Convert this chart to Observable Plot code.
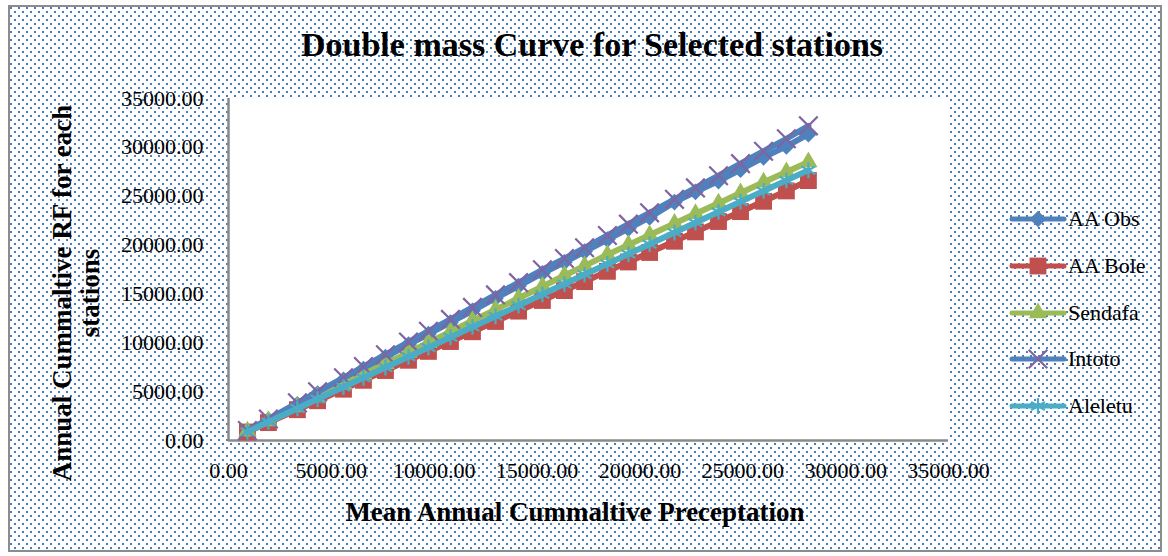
<!DOCTYPE html>
<html>
<head>
<meta charset="utf-8">
<script src="https://cdn.jsdelivr.net/npm/d3@7"></script>
<script src="https://cdn.jsdelivr.net/npm/@observablehq/plot@0.6"></script>
<style>
  html, body { margin: 0; padding: 0; background: #fff; }
  #chart {
    position: absolute; left: 8px; top: 5px; width: 1150px; height: 543px;
    border: 2px solid #8c8c8c; background-color: #fff;
    background-image: url("data:image/svg+xml,%3Csvg xmlns='http://www.w3.org/2000/svg' width='8' height='8'%3E%3Crect width='2' height='2' fill='%234a7ebb'/%3E%3Crect x='4' y='4' width='2' height='2' fill='%234a7ebb'/%3E%3C/svg%3E");
  }
  #plot { position: absolute; left: 0; top: 0; }
  .t { position: absolute; font-family: "Liberation Serif", serif; font-weight: bold; color: #000; white-space: nowrap; }
  #legend .item { position: absolute; display: flex; align-items: center; font-family: "Liberation Serif", serif; font-size: 22px; color: #000; }
</style>
</head>
<body>
<div id="chart"></div>
<div id="plot"></div>
<div class="t" style="left:592px;top:45px;transform:translate(-50%,-50%);font-size:34px;">Double mass Curve for Selected stations</div>
<div class="t" style="left:76px;top:293px;transform:translate(-50%,-50%) rotate(-90deg);text-align:center;font-size:27px;line-height:28px;">Annual Cummaltive RF for each<br>stations</div>
<div class="t" style="left:575px;top:512px;transform:translate(-50%,-50%);font-size:27px;">Mean Annual Cummaltive Preceptation</div>
<div id="legend"></div>
<script>
// Cumulative mean annual rainfall (x) and cumulative rainfall per station (y)
const meanCum = [920, 1940, 3350, 4330, 5590, 6560, 7630, 8750, 9720, 10790, 11860, 12980, 14100,
  15260, 16330, 17310, 18420, 19440, 20470, 21680, 22700, 23820, 24890, 26010, 27120, 28190];
const aaObs = [980, 2120, 3690, 4800, 6200, 7320, 8540, 9820, 10900, 12080, 13280, 14560, 15800,
  17120, 18240, 19330, 20560, 21690, 22840, 24400, 25450, 26550, 27720, 28980, 30100, 31350];
const aaBole = [870, 1830, 3150, 4070, 5250, 6160, 7160, 8210, 9120, 10130, 11130, 12180, 13240,
  14330, 15340, 16260, 17310, 18270, 19240, 20390, 21350, 22410, 23420, 24480, 25540, 26600];
const sendafa = [950, 2010, 3430, 4450, 5760, 6780, 7860, 9010, 10010, 11130, 12250, 13390, 14560,
  15760, 16890, 17870, 19010, 20020, 21030, 22210, 23200, 24280, 25330, 26430, 27480, 28500];
const intoto = [1010, 2200, 3850, 4980, 6420, 7560, 8780, 10080, 11180, 12390, 13620, 14900, 16150,
  17470, 18620, 19720, 20980, 22140, 23300, 24680, 25850, 27100, 28330, 29600, 30880, 32200];
const aleletu = [900, 1900, 3280, 4240, 5470, 6420, 7470, 8570, 9520, 10570, 11620, 12720, 13810,
  14960, 16010, 16980, 18070, 19080, 20090, 21280, 22290, 23390, 24440, 25540, 26620, 27650];

const stationNames = ["AA Obs", "AA Bole", "Sendafa", "Intoto", "Aleletu"];
const stationValues = [aaObs, aaBole, sendafa, intoto, aleletu];
const xTicks = [0, 5000, 10000, 15000, 20000, 25000, 30000, 35000];
const yTicks = [0, 5000, 10000, 15000, 20000, 25000, 30000, 35000];

// Drawing style per station (line colour, marker symbol and colour)
const styles = {
  "AA Obs":  {line: "#4f81bd", color: "#4f81bd", symbol: "diamond2", r: 7.5, filled: true},
  "AA Bole": {line: "#c0504d", color: "#c0504d", symbol: "square", r: 9.5, filled: true},
  "Sendafa": {line: "#9bbb59", color: "#9bbb59", symbol: "triangle", r: 6.8, filled: true},
  "Intoto":  {line: "#4f81bd", color: "#8064a2", symbol: "times", r: 8.5, filled: false},
  "Aleletu": {line: "#4bacc6", color: "#4bacc6", symbol: "asterisk", r: 7.5, filled: false}
};

const rows = stationNames.flatMap((name, s) =>
  meanCum.map((x, i) => ({station: name, x, y: stationValues[s][i]})));

const fmt = d3.format(".2f");

const marks = [
  Plot.frame({fill: "white", stroke: "none"}),
  Plot.ruleX([0], {stroke: "#8a8a8a", strokeWidth: 2.5}),
  Plot.ruleY([0], {stroke: "#8a8a8a", strokeWidth: 2.5})
];
for (const name of stationNames) {
  const st = styles[name];
  const data = rows.filter(d => d.station === name);
  marks.push(Plot.line(data, {x: "x", y: "y", stroke: st.line, strokeWidth: 6,
    strokeLinejoin: "round", strokeLinecap: "round"}));
  marks.push(Plot.dot(data, st.filled
    ? {x: "x", y: "y", symbol: () => st.symbol, r: st.r, fill: st.color, stroke: "none"}
    : {x: "x", y: "y", symbol: () => st.symbol, r: st.r, fill: "none", stroke: st.color, strokeWidth: 2.2}));
}
marks.push(Plot.axisX({ticks: xTicks, tickFormat: fmt, tickSize: 0, tickPadding: 22, fontSize: 22, label: null}));
marks.push(Plot.axisY({ticks: yTicks, tickFormat: fmt, tickSize: 0, tickPadding: 25, fontSize: 22, label: null}));

const chart = Plot.plot({
  width: 1168,
  height: 556,
  marginLeft: 228,
  marginRight: 220,
  marginTop: 98,
  marginBottom: 116,
  style: {background: "transparent", fontFamily: "'Liberation Serif', serif", fontSize: "22px", color: "#000"},
  x: {domain: [0, 35000]},
  y: {domain: [0, 35000]},
  symbol: {type: "identity"},
  marks
});
document.getElementById("plot").append(chart);

// Legend: line sample with marker, then the station name
const legend = d3.select("#legend");
const symbolTypes = {diamond2: d3.symbolDiamond2, square: d3.symbolSquare, triangle: d3.symbolTriangle,
  times: d3.symbolTimes, asterisk: d3.symbolAsterisk};
stationNames.forEach((name, i) => {
  const st = styles[name];
  const item = legend.append("div").attr("class", "item")
    .style("left", "1008px").style("top", `${219 + i * 46.8 - 15}px`).style("height", "30px");
  const svg = item.append("svg").attr("width", 60).attr("height", 30);
  svg.append("line").attr("x1", 4).attr("x2", 56).attr("y1", 15).attr("y2", 15)
    .attr("stroke", st.line).attr("stroke-width", 5).attr("stroke-linecap", "round");
  const path = d3.symbol(symbolTypes[st.symbol], Math.PI * st.r * st.r)();
  const p = svg.append("path").attr("d", path).attr("transform", "translate(30,15)");
  if (st.filled) p.attr("fill", st.color);
  else p.attr("fill", "none").attr("stroke", st.color).attr("stroke-width", 2.2);
  item.append("span").text(name);
});
</script>
</body>
</html>
